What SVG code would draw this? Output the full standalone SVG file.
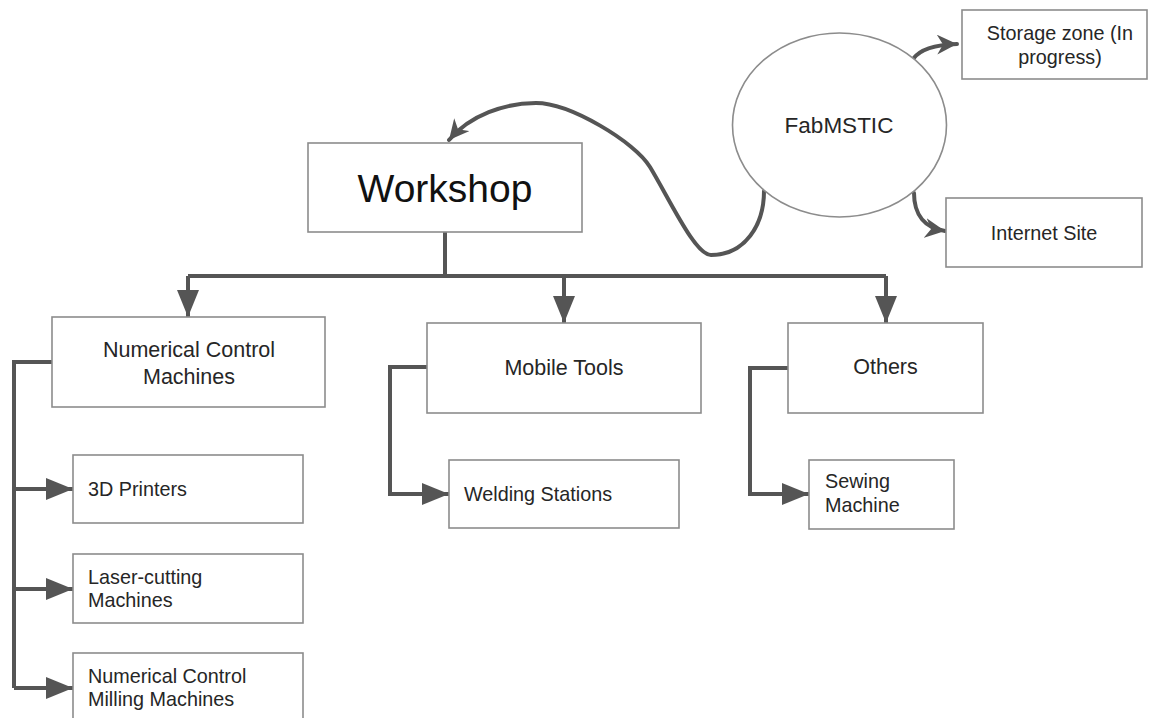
<svg xmlns="http://www.w3.org/2000/svg" width="1149" height="718" viewBox="0 0 1149 718">
<style>
.box{fill:#fff;stroke:#8c8c8c;stroke-width:1.6}
.ell{fill:#fff;stroke:#8c8c8c;stroke-width:1.6}
.t{font-family:"Liberation Sans",Arial,sans-serif;fill:#262626}
.big{font-size:39px;fill:#111}
.m{font-size:21.5px}
.s{font-size:19.8px}
.c{text-anchor:middle}
.ln{fill:none;stroke:#555;stroke-width:4;stroke-linejoin:miter}
.cv{fill:none;stroke:#555;stroke-width:4;stroke-linecap:round}
</style>
<defs>
<marker id="ah" markerUnits="userSpaceOnUse" markerWidth="28" markerHeight="22" refX="27" refY="11" orient="auto">
<path d="M0,0 L27,11 L0,22 z" fill="#555"/>
</marker>
<marker id="ac" markerUnits="userSpaceOnUse" markerWidth="22" markerHeight="20" refX="20" refY="10" orient="auto">
<path d="M0,0 L20,10 L0,20 L6,10 z" fill="#555"/>
</marker>
</defs>
<rect width="1149" height="718" fill="#fff"/>
<g id="connectors">
<path class="cv" d="M764,191 C764,225 745,255 711,255 C695,255 670,200 650,167 C635,142 570,103 536,103 C505,103 470,115 449,140" marker-end="url(#ac)"/>
<path class="cv" d="M913,59 Q923,45 957,44" marker-end="url(#ac)"/>
<path class="cv" d="M914,193 C914,215 925,228 945,231" marker-end="url(#ac)"/>
<path class="ln" d="M445,232 V276"/>
<path class="ln" d="M188,276 H886"/>
<path class="ln" d="M188,276 V317" marker-end="url(#ah)"/>
<path class="ln" d="M564,276 V323" marker-end="url(#ah)"/>
<path class="ln" d="M886,276 V323" marker-end="url(#ah)"/>
<path class="ln" d="M52,362 H14 V688"/>
<path class="ln" d="M14,489 H73" marker-end="url(#ah)"/>
<path class="ln" d="M14,589 H73" marker-end="url(#ah)"/>
<path class="ln" d="M14,688 H73" marker-end="url(#ah)"/>
<path class="ln" d="M427,367 H390 V494 H449" marker-end="url(#ah)"/>
<path class="ln" d="M788,368 H750 V494 H809" marker-end="url(#ah)"/>
</g>
<g id="fabmstic">
<ellipse class="ell" cx="839.5" cy="125" rx="107" ry="92"/>
<text class="t c" x="839" y="133" font-size="22.5">FabMSTIC</text>
</g>
<g id="storage">
<rect class="box" x="962" y="10" width="185" height="69"/>
<text class="t s c" x="1060" y="40">Storage zone (In</text>
<text class="t s c" x="1060" y="64">progress)</text>
</g>
<g id="internet">
<rect class="box" x="946" y="198" width="196" height="69"/>
<text class="t s c" x="1044" y="240">Internet Site</text>
</g>
<g id="workshop">
<rect class="box" x="308" y="143" width="274" height="89"/>
<text class="t big c" x="445" y="202">Workshop</text>
</g>
<g id="nc">
<rect class="box" x="52" y="317" width="273" height="90"/>
<text class="t m c" x="189" y="357">Numerical Control</text>
<text class="t m c" x="189" y="384">Machines</text>
</g>
<g id="mobile">
<rect class="box" x="427" y="323" width="274" height="90"/>
<text class="t m c" x="564" y="375">Mobile Tools</text>
</g>
<g id="others">
<rect class="box" x="788" y="323" width="195" height="90"/>
<text class="t m c" x="885.5" y="374">Others</text>
</g>
<g id="printers">
<rect class="box" x="73" y="455" width="230" height="68"/>
<text class="t s" x="88" y="496">3D Printers</text>
</g>
<g id="laser">
<rect class="box" x="73" y="554" width="230" height="69"/>
<text class="t s" x="88" y="584">Laser-cutting</text>
<text class="t s" x="88" y="607">Machines</text>
</g>
<g id="milling">
<rect class="box" x="73" y="653" width="230" height="80"/>
<text class="t s" x="88" y="683">Numerical Control</text>
<text class="t s" x="88" y="706">Milling Machines</text>
</g>
<g id="welding">
<rect class="box" x="449" y="460" width="230" height="68"/>
<text class="t s" x="464" y="501">Welding Stations</text>
</g>
<g id="sewing">
<rect class="box" x="809" y="460" width="145" height="69"/>
<text class="t s" x="825" y="488">Sewing</text>
<text class="t s" x="825" y="512">Machine</text>
</g>
</svg>
